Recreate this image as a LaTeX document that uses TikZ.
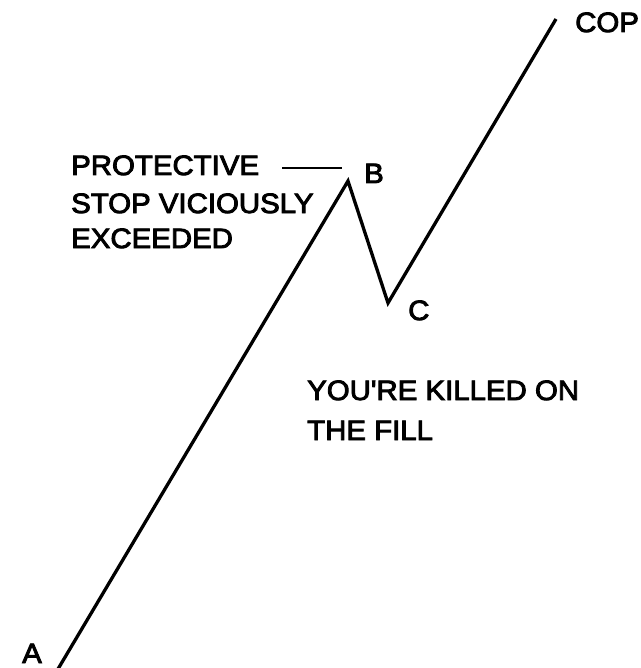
\documentclass[tikz,border=0pt]{standalone}
\usepackage{fontspec}
\newfontfamily\lblfont{Liberation Sans}[FakeStretch=1.05,FakeBold=3.2]
\begin{document}
\begin{tikzpicture}[x=1pt,y=-1pt,
  lbl/.style={inner sep=0pt,anchor=base west,font=\lblfont\fontsize{28}{34}\selectfont},
  curve/.style={line width=3.3pt,line join=miter,line cap=butt}]
\useasboundingbox (0,0) rectangle (640,668);
\coordinate (A) at (58,669);
\coordinate (B) at (348,181);
\coordinate (C) at (388,303);
\coordinate (T) at (556,19);
\draw[curve] (A) -- (B) -- (C) -- (T);
\node[lbl] (la) at (22,663) {A};
\node[lbl] (lb) at (364,183) {B};
\node[lbl] (lc) at (408,320) {C};
\node[lbl] (lcop) at (575,32) {COP};
\node[lbl] (p1) at (71,175) {PROTECTIVE};
\node[lbl] (p2) at (71,213) {STOP VICIOUSLY};
\node[lbl] (p3) at (71,248) {EXCEEDED};
\node[lbl] (k1) at (307,400) {YOU'RE KILLED ON};
\node[lbl] (k2) at (307,440) {THE FILL};
\coordinate (d1) at (282,168);
\coordinate (d2) at (342,168);
\draw[line width=2pt] (d1) -- (d2);
\end{tikzpicture}
\end{document}
